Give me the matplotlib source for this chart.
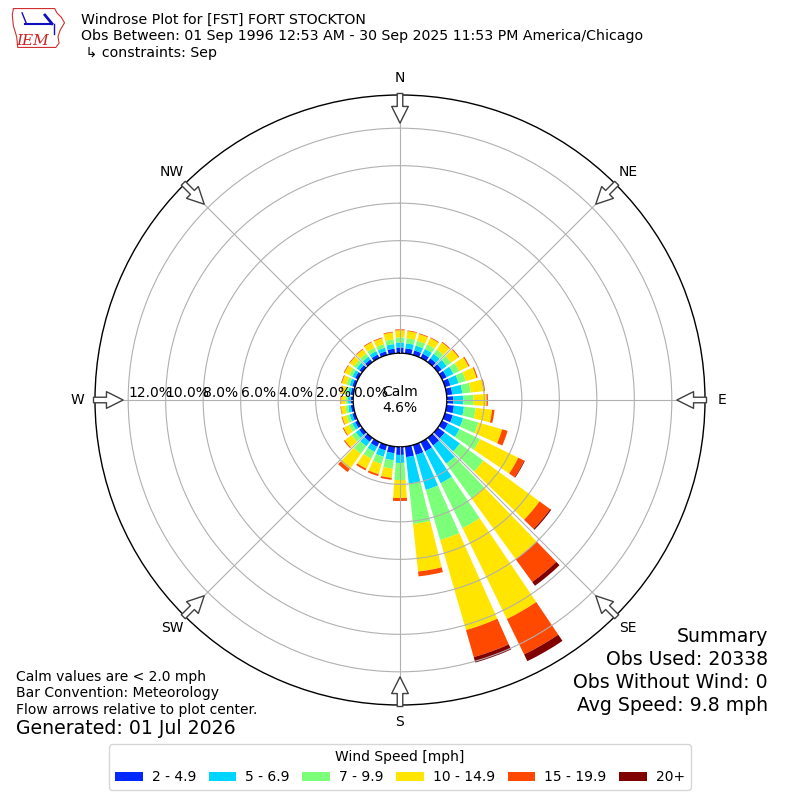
import numpy as np
import matplotlib
matplotlib.use("Agg")
import matplotlib.pyplot as plt
from matplotlib.patches import Polygon

# wind directions (deg, meteorological) and frequency (%) per speed bin
directions = np.arange(0, 360, 10)
speed_bins = ["2 - 4.9", "5 - 6.9", "7 - 9.9", "10 - 14.9", "15 - 19.9", "20+"]
bin_colors = ["#0028ff", "#00d5ff", "#7cff79", "#ffe500", "#ff4800", "#800000"]

blue = [0.30, 0.27, 0.25, 0.25, 0.25, 0.25, 0.27, 0.30, 0.30, 0.34, 0.39, 0.43,
        0.35, 0.45, 0.50, 0.55, 0.55, 0.56, 0.43, 0.35, 0.30, 0.28, 0.25, 0.20,
        0.17, 0.15, 0.14, 0.14, 0.14, 0.15, 0.17, 0.18, 0.18, 0.20, 0.20, 0.25]
cyan = [0.27, 0.27, 0.27, 0.28, 0.30, 0.33, 0.40, 0.45, 0.54, 0.54, 0.54, 0.57,
        0.68, 1.00, 1.20, 1.89, 1.94, 1.42, 0.43, 0.38, 0.35, 0.30, 0.30, 0.22,
        0.17, 0.15, 0.14, 0.13, 0.14, 0.15, 0.17, 0.18, 0.18, 0.20, 0.20, 0.25]
green = [0.27, 0.27, 0.27, 0.27, 0.28, 0.30, 0.35, 0.40, 0.45, 0.53, 0.63, 0.85,
         1.22, 1.55, 2.27, 2.66, 2.78, 2.17, 0.91, 0.45, 0.40, 0.40, 0.50, 0.27,
         0.20, 0.16, 0.15, 0.14, 0.15, 0.17, 0.18, 0.18, 0.20, 0.20, 0.20, 0.25]
yellow = [0.38, 0.38, 0.37, 0.38, 0.46, 0.48, 0.55, 0.60, 0.70, 0.71, 0.88, 1.32,
          2.27, 3.70, 4.03, 5.40, 5.00, 2.55, 0.96, 0.50, 0.57, 0.60, 1.00, 0.45,
          0.31, 0.25, 0.24, 0.23, 0.23, 0.26, 0.28, 0.28, 0.28, 0.33, 0.33, 0.37]
orange = [0.05, 0.04, 0.04, 0.04, 0.05, 0.05, 0.06, 0.06, 0.07, 0.07, 0.13, 0.30,
          0.35, 0.70, 1.50, 2.10, 1.50, 0.26, 0.16, 0.10, 0.10, 0.10, 0.20, 0.06,
          0.05, 0.04, 0.03, 0.04, 0.04, 0.04, 0.04, 0.04, 0.04, 0.04, 0.04, 0.04]
darkred = [0, 0, 0, 0, 0, 0, 0, 0, 0, 0, 0, 0,
           0.04, 0.07, 0.25, 0.40, 0.30, 0, 0, 0, 0, 0, 0, 0,
           0, 0, 0, 0, 0, 0, 0, 0, 0, 0, 0, 0]
calm_pct = 4.6
r_ticks = [0, 2, 4, 6, 8, 10, 12]
compass = ["N", "NE", "E", "SE", "S", "SW", "W", "NW"]

fig = plt.figure(figsize=(8, 8), dpi=100)
ax = fig.add_axes([0.11875, 0.11875, 0.7625, 0.7625], projection="polar")
ax.set_theta_zero_location("N")
ax.set_theta_direction(-1)
ax.set_rorigin(-2.5)
ax.set_rlim(0, 13.77)
ax.set_axisbelow(False)

theta = np.deg2rad(directions)
bottom = np.zeros(len(directions))
for vals, color, lab in zip([blue, cyan, green, yellow, orange, darkred], bin_colors, speed_bins):
    vals = np.array(vals)
    ax.bar(theta, vals, width=np.deg2rad(8), bottom=bottom, color=color,
           edgecolor="none", label=lab, zorder=1)
    bottom += vals

ax.set_yticks(r_ticks[1:])
ax.set_yticklabels([])
ax.grid(True, color="#b0b0b0", lw=0.8)
ax.set_thetagrids(np.arange(0, 360, 45), labels=compass)
ax.tick_params(axis="x", pad=2, labelsize=10)
for sp in ax.spines.values():
    sp.set_color("black")
    sp.set_linewidth(1.0)

# radial labels along W
for r in r_ticks:
    ax.text(np.deg2rad(270), r, "%.1f%%" % r, ha="left", va="bottom",
            fontsize=10, zorder=5)

ax.text(0.5, 0.5, "Calm\n%.1f%%" % calm_pct, transform=ax.transAxes,
        ha="center", va="center", fontsize=10)

# flow arrows pointing to centre
for ang in np.arange(0, 360, 45):
    t = np.deg2rad(ang)
    ax.annotate("", xy=(t, 12.27), xytext=(t, 13.85), xycoords="data",
                arrowprops=dict(arrowstyle="simple,head_length=1.2,head_width=1.2,tail_width=0.4",
                                fc="white", ec="#404040", lw=1, shrinkA=0, shrinkB=0),
                annotation_clip=False, zorder=6)

# header
fig.text(0.101, 0.984,
         "Windrose Plot for [FST] FORT STOCKTON\n"
         "Obs Between: 01 Sep 1996 12:53 AM - 30 Sep 2025 11:53 PM America/Chicago\n"
         " \u21b3 constraints: Sep",
         ha="left", va="top", fontsize=10.15, linespacing=1.23)

# logo
lax = fig.add_axes([0.014, 0.938, 0.068, 0.054])
lax.set_xlim(0, 1)
lax.set_ylim(0, 1)
lax.axis("off")
iowa = [(0.04, 0.95), (0.80, 0.95), (0.84, 0.85), (0.92, 0.75), (0.98, 0.62),
        (0.90, 0.45), (0.86, 0.30), (0.88, 0.15), (0.82, 0.05), (0.12, 0.05),
        (0.10, 0.30), (0.04, 0.55), (0.02, 0.80)]
lax.add_patch(Polygon(iowa, closed=True, fill=False, ec="#d03030", lw=0.8))
lax.plot([0.25, 0.75], [0.60, 0.60], color="#1010c0", lw=1.5)
lax.plot([0.62, 0.75], [0.80, 0.60], color="#1010c0", lw=2)
lax.plot([0.20, 0.28], [0.85, 0.60], color="#1010c0", lw=1)
lax.plot([0.78, 0.78], [0.60, 0.35], color="#1010c0", lw=1)
lax.text(0.10, 0.10, "IEM", color="#d02020", fontsize=11, style="italic",
         family="DejaVu Serif")

# footer texts
fig.text(0.02, 0.154, "Calm values are < 2.0 mph", fontsize=10, va="center")
fig.text(0.02, 0.134, "Bar Convention: Meteorology", fontsize=10, va="center")
fig.text(0.02, 0.1125, "Flow arrows relative to plot center.", fontsize=10, va="center")
fig.text(0.02, 0.089, "Generated: 01 Jul 2026", fontsize=13.6, va="center")

summary = ["Summary", "Obs Used: 20338", "Obs Without Wind: 0", "Avg Speed: 9.8 mph"]
for i, s in enumerate(summary):
    fig.text(0.96, 0.205 - i * 0.0288, s, fontsize=13.6, ha="right", va="center")

handles, labels = ax.get_legend_handles_labels()
fig.legend(handles, labels, loc="lower center", bbox_to_anchor=(0.5, 0.0125),
           ncol=6, title="Wind Speed [mph]", fontsize=10, title_fontsize=10,
           borderaxespad=0, columnspacing=0.9, handletextpad=0.65)

fig.savefig("out.png", dpi=100)
